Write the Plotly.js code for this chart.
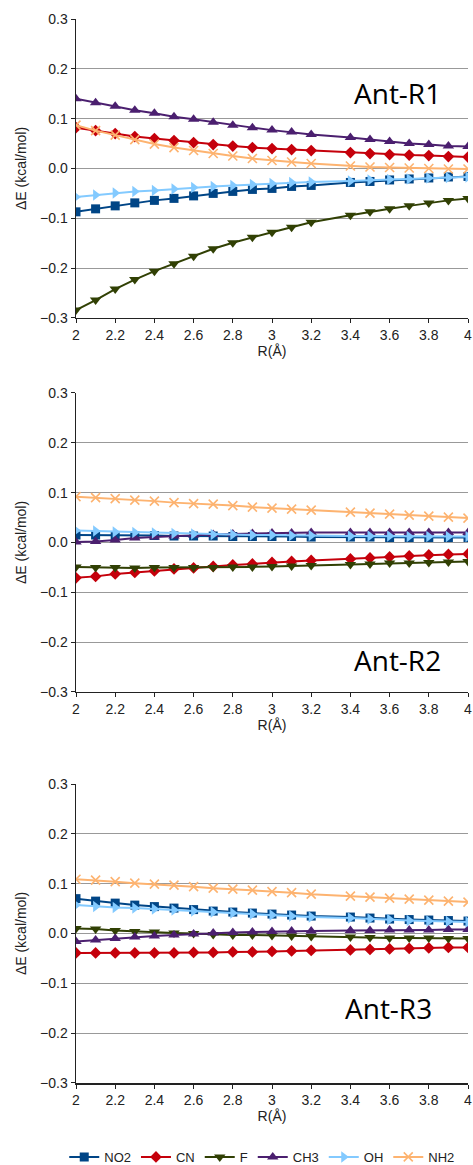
<!DOCTYPE html>
<html>
<head>
<meta charset="utf-8">
<script src="https://cdn.plot.ly/plotly-3.0.1.min.js"></script>
<style>html,body{margin:0;padding:0;background:#fff;}#chart{width:473px;height:1165px;}</style>
</head>
<body>
<div id="chart"></div>
<script>
// Distance R (Å) - note 3.3 is absent
const R = [2,2.1,2.2,2.3,2.4,2.5,2.6,2.7,2.8,2.9,3,3.1,3.2,3.4,3.5,3.6,3.7,3.8,3.9,4];
const seriesNames = ["NO2","CN","F","CH3","OH","NH2"];
const panelLabels = ["Ant-R1","Ant-R2","Ant-R3"];
const xTicks = [2,2.2,2.4,2.6,2.8,3,3.2,3.4,3.6,3.8,4];
const yTicks = [-0.3,-0.2,-0.1,0,0.1,0.2,0.3];

// Ant-R1
const r1_NO2 = [-0.087,-0.081,-0.075,-0.069,-0.064,-0.060,-0.055,-0.050,-0.046,-0.042,-0.040,-0.036,-0.034,-0.028,-0.026,-0.023,-0.021,-0.019,-0.017,-0.016];
const r1_CN  = [0.082,0.076,0.070,0.064,0.060,0.056,0.052,0.048,0.045,0.042,0.040,0.038,0.036,0.032,0.030,0.028,0.027,0.026,0.024,0.023];
const r1_F   = [-0.284,-0.264,-0.242,-0.223,-0.206,-0.191,-0.176,-0.161,-0.149,-0.138,-0.128,-0.118,-0.108,-0.094,-0.087,-0.081,-0.075,-0.069,-0.064,-0.060];
const r1_CH3 = [0.140,0.132,0.125,0.117,0.111,0.104,0.099,0.093,0.087,0.082,0.077,0.073,0.068,0.062,0.058,0.054,0.050,0.048,0.045,0.044];
const r1_OH  = [-0.057,-0.053,-0.049,-0.046,-0.044,-0.041,-0.038,-0.036,-0.034,-0.032,-0.030,-0.028,-0.027,-0.025,-0.023,-0.022,-0.021,-0.019,-0.018,-0.017];
const r1_NH2 = [0.087,0.076,0.067,0.058,0.049,0.042,0.036,0.030,0.025,0.020,0.016,0.013,0.010,0.005,0.003,0.002,0.001,0.000,-0.001,-0.001];

// Ant-R2
const r2_NO2 = [0.015,0.015,0.014,0.014,0.014,0.013,0.013,0.013,0.012,0.012,0.012,0.012,0.011,0.011,0.011,0.010,0.010,0.010,0.010,0.010];
const r2_CN  = [-0.071,-0.068,-0.063,-0.060,-0.057,-0.053,-0.051,-0.048,-0.045,-0.043,-0.040,-0.038,-0.036,-0.033,-0.031,-0.029,-0.027,-0.025,-0.024,-0.023];
const r2_F   = [-0.049,-0.050,-0.050,-0.051,-0.050,-0.050,-0.050,-0.050,-0.049,-0.049,-0.048,-0.047,-0.046,-0.044,-0.043,-0.041,-0.041,-0.040,-0.039,-0.038];
const r2_CH3 = [0.001,0.002,0.005,0.009,0.011,0.013,0.015,0.016,0.017,0.018,0.019,0.019,0.020,0.020,0.020,0.020,0.020,0.020,0.020,0.020];
const r2_OH  = [0.024,0.023,0.021,0.020,0.019,0.018,0.017,0.016,0.016,0.015,0.015,0.014,0.014,0.013,0.013,0.013,0.012,0.012,0.012,0.012];
const r2_NH2 = [0.092,0.090,0.088,0.085,0.083,0.080,0.078,0.077,0.074,0.071,0.069,0.067,0.065,0.061,0.059,0.057,0.055,0.053,0.051,0.049];

// Ant-R3
const r3_NO2 = [0.070,0.065,0.061,0.057,0.054,0.051,0.048,0.045,0.043,0.041,0.039,0.037,0.035,0.033,0.031,0.029,0.028,0.027,0.026,0.025];
const r3_CN  = [-0.039,-0.039,-0.039,-0.039,-0.039,-0.039,-0.038,-0.038,-0.037,-0.037,-0.036,-0.035,-0.034,-0.033,-0.032,-0.031,-0.030,-0.029,-0.028,-0.028];
const r3_F   = [0.010,0.009,0.006,0.004,0.003,0.001,0.000,-0.002,-0.003,-0.003,-0.004,-0.005,-0.006,-0.007,-0.008,-0.009,-0.009,-0.009,-0.010,-0.010];
const r3_CH3 = [-0.016,-0.013,-0.010,-0.007,-0.005,-0.003,-0.001,0.001,0.002,0.003,0.004,0.005,0.005,0.006,0.006,0.007,0.007,0.007,0.008,0.008];
const r3_OH  = [0.057,0.054,0.052,0.051,0.049,0.047,0.045,0.043,0.041,0.039,0.037,0.035,0.033,0.031,0.029,0.028,0.026,0.025,0.024,0.023];
const r3_NH2 = [0.109,0.107,0.104,0.101,0.099,0.097,0.094,0.091,0.089,0.087,0.084,0.082,0.079,0.075,0.073,0.071,0.069,0.067,0.065,0.063];

const panels = [
  [r1_NO2,r1_CN,r1_F,r1_CH3,r1_OH,r1_NH2],
  [r2_NO2,r2_CN,r2_F,r2_CH3,r2_OH,r2_NH2],
  [r3_NO2,r3_CN,r3_F,r3_CH3,r3_OH,r3_NH2]
];

const styles = [
  {color:"#004586", symbol:"square", size:9},
  {color:"#c5000b", symbol:"diamond", size:9},
  {color:"#314004", symbol:"triangle-down", size:10},
  {color:"#4b1f6f", symbol:"triangle-up", size:10},
  {color:"#83caff", symbol:"triangle-right", size:10},
  {color:"#fdb370", symbol:"x-thin-open", size:9}
];

const traces = [];
panels.forEach((vals, p) => {
  vals.forEach((ys, i) => {
    const st = styles[i];
    const isX = st.symbol.indexOf("open") >= 0;
    traces.push({
      type: "scatter", mode: "lines+markers",
      x: R, y: ys, name: seriesNames[i],
      xaxis: p === 0 ? "x" : "x" + (p + 1),
      yaxis: p === 0 ? "y" : "y" + (p + 1),
      showlegend: p === 0,
      legendgroup: seriesNames[i],
      line: {color: st.color, width: 2},
      marker: {symbol: st.symbol, size: st.size, color: st.color,
               line: {color: st.color, width: isX ? 1.6 : 0}}
    });
  });
});

const font = {family: "Arial, 'Liberation Sans', sans-serif", size: 14, color: "#222"};
function xax(anchor) {
  return {
    anchor: anchor, domain: [0, 1], range: [2, 4], tickvals: xTicks,
    showgrid: false, zeroline: false, showline: true, linecolor: "#222", linewidth: 1.5,
    ticks: "outside", ticklen: 4, tickcolor: "#222",
    tickfont: font, automargin: false,
    title: {text: "R(Å)", font: font, standoff: 4}
  };
}
function yax(anchor, dom) {
  return {
    anchor: anchor, domain: dom, range: [-0.3, 0.3], tickvals: yTicks, tickformat: ".1f",
    showgrid: true, gridcolor: "#999", gridwidth: 1.2, zeroline: false,
    showline: true, linecolor: "#222", linewidth: 1.5,
    ticks: "outside", ticklen: 4, tickcolor: "#222",
    tickfont: font, automargin: false,
    title: {text: "ΔE (kcal/mol)", font: font, standoff: 10}
  };
}

const annFont = {family: "'Open Sans', Lato, sans-serif", size: 28, color: "#000"};
function ann(i, x, y) {
  return {text: panelLabels[i], xref: "paper", yref: "paper", x: x, y: y,
          xanchor: "center", yanchor: "middle", showarrow: false, font: annFont};
}
const layout = {
  width: 473, height: 1165,
  margin: {l: 76, r: 5, t: 19, b: 82, autoexpand: false},
  paper_bgcolor: "#fff", plot_bgcolor: "#fff",
  font: font,
  xaxis: xax("y"), yaxis: yax("x", [0.719, 1]),
  xaxis2: xax("y2"), yaxis2: yax("x2", [0.3675, 0.6485]),
  xaxis3: xax("y3"), yaxis3: yax("x3", [0, 0.281]),
  showlegend: true,
  legend: {orientation: "h", x: -0.03, xanchor: "left", y: -0.0695, yanchor: "middle",
           font: {family: font.family, size: 13, color: "#222"}, itemwidth: 30, tracegroupgap: 0},
  annotations: [ann(0, 0.819, 0.930), ann(1, 0.819, 0.3976), ann(2, 0.798, 0.0705)]
};

Plotly.newPlot("chart", traces, layout, {staticPlot: true, displayModeBar: false});
</script>
</body>
</html>
